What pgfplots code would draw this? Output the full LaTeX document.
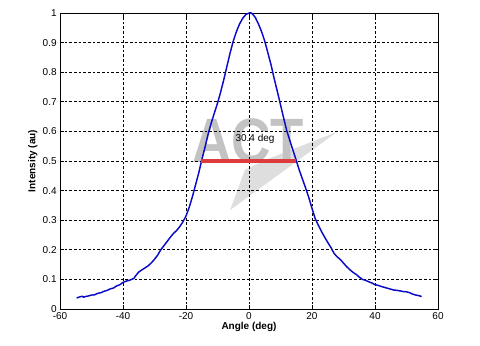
\documentclass[border=0pt]{standalone}
\usepackage{pgfplots}
\pgfplotsset{compat=1.18}
\usepackage{fontspec}
\setmainfont{Liberation Sans}
\definecolor{curveblue}{RGB}{10,10,200}
\definecolor{fwhmred}{RGB}{220,60,60}
\definecolor{wmgray}{RGB}{195,195,195}
\definecolor{wmlight}{RGB}{222,222,222}
\begin{document}
\begin{tikzpicture}
\begin{axis}[
  name=ax,
  set layers,
  scale only axis,
  width=283.5pt, height=222pt,
  xmin=-60, xmax=60, ymin=0, ymax=1,
  xtick={-60,-40,...,60},
  ytick={0,0.1,...,1},
  yticklabels={0,0.1,0.2,0.3,0.4,0.5,0.6,0.7,0.8,0.9,1},
  grid=major,
  major grid style={black, dash pattern=on 2pt off 1.5pt, line width=0.55pt},
  tick style={black, line width=0.5pt},
  tick align=inside,
  major tick length=3pt,
  axis line style={black, line width=0.6pt},
  ticklabel style={font=\fontsize{7.5}{8}\selectfont},
  /pgf/number format/assume math mode=true,
  xticklabel style={yshift=1pt},
  yticklabel style={xshift=1pt},
  xlabel={\textbf{Angle (deg)}},
  ylabel={\textbf{Intensity (au)}},
  label style={font=\fontsize{7.5}{8}\selectfont},
  xlabel style={yshift=5pt},
  ylabel style={yshift=-3pt},
  clip=true,
]
\begin{pgfonlayer}{axis background}
\fill[wmlight] (axis cs:27.9,0.598) -- (axis cs:5.1,0.503) -- (axis cs:-1.3,0.47) -- (axis cs:-6.0,0.334) -- cycle;
\node[text=wmgray, font=\bfseries\fontsize{47}{47}\selectfont, xscale=0.87, inner sep=0pt] at (axis cs:-0.3,0.567) {ACT};
\end{pgfonlayer}
\addplot[curveblue, line width=1.1pt] coordinates {
(-54.7,0.037) (-54,0.040) (-53,0.043) (-52.5,0.040) (-52,0.042) (-51,0.044) (-50,0.047)
(-49,0.048) (-48,0.053) (-47,0.055) (-46,0.060) (-45,0.063) (-44,0.068) (-43,0.071)
(-42,0.078) (-41,0.082) (-40,0.090) (-39,0.094) (-38,0.097) (-37,0.101) (-36.5,0.104)
(-36,0.112) (-35,0.125) (-34,0.132) (-33,0.139) (-32,0.146) (-31,0.156) (-30,0.168)
(-29,0.182) (-28,0.200) (-27,0.214) (-26,0.228) (-25,0.242) (-24,0.255) (-23,0.265)
(-22,0.278) (-21,0.294) (-20,0.314) (-19,0.343) (-18,0.378) (-17,0.418) (-16,0.458)
(-15,0.503) (-14,0.545) (-13,0.590) (-12,0.628) (-11,0.662) (-10,0.695) (-9,0.733)
(-8,0.775) (-7,0.820) (-6,0.865) (-5,0.905) (-4,0.937) (-3,0.963) (-2,0.982)
(-1,0.995) (0,1.0) (0.5,1.001) (1,0.998) (2,0.985) (3,0.963) (4,0.937) (5,0.905)
(6,0.865) (7,0.825) (8,0.778) (9,0.735) (10,0.690) (11,0.645) (12,0.602)
(13,0.568) (14,0.535) (15,0.502) (16,0.468) (17,0.438) (18,0.408) (19,0.376)
(20,0.340) (21,0.306) (22,0.283) (23,0.262) (24,0.243) (25,0.225) (26,0.208)
(27,0.188) (28,0.176) (29,0.167) (30,0.155) (31,0.143) (32,0.133) (33,0.124)
(34,0.117) (35,0.108) (36,0.100) (37,0.097) (38,0.092) (39,0.088) (40,0.082)
(41,0.080) (42,0.076) (43,0.073) (44,0.070) (45,0.067) (46,0.064) (47,0.063)
(48,0.061) (49,0.059) (50,0.058) (51,0.055) (52,0.050) (53,0.047) (54,0.045) (54.8,0.042)
};
\addplot[fwhmred, line width=3pt] coordinates {(-15.2,0.5) (14.9,0.5)};
\node[font=\fontsize{7.5}{8}\selectfont, inner sep=0pt] at (axis cs:1.9,0.574) {30.4 deg};
\end{axis}
\pgfresetboundingbox
\path[use as bounding box] ([shift={(-45pt,-27.75pt)}]ax.south west) rectangle ([shift={(31.5pt,9.75pt)}]ax.north east);
\end{tikzpicture}
\end{document}
